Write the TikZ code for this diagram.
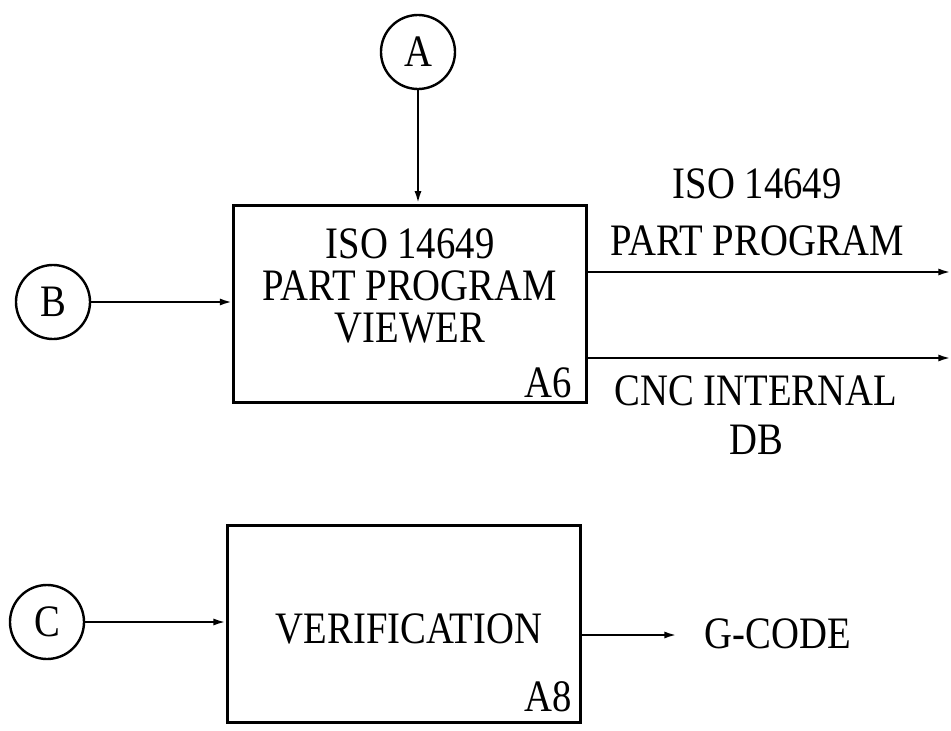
\documentclass[tikz,border=0pt]{standalone}
\usepackage{fontspec}
\setmainfont{Liberation Serif}[FakeStretch=0.86]
\usepackage{tikz}
\usetikzlibrary{arrows.meta}

\begin{document}
\begin{tikzpicture}[line width=1.7pt,
    every node/.style={font=\fontsize{32}{30}\selectfont, inner sep=0pt},
    conn/.style={circle, draw, minimum size=1.85cm},
    func/.style={draw, line width=2pt, minimum width=8.825cm, minimum height=4.925cm},
    flow/.style={-{Latex[open, length=9pt, width=5pt]}}]
  \useasboundingbox (0,0) rectangle (23.775,-18.275);
  % connectors
  \node[conn] (A) at (10.45,-1.30) {A};
  \node[conn] (B) at (1.325,-7.55) {B};
  \node[conn] (C) at (1.175,-15.55) {C};
  % activity boxes
  \node[func] (viewer) at (10.26,-7.59) {};
  \node[align=center] (viewertxt) at (10.25,-7.15) {ISO 14649\\PART PROGRAM\\VIEWER};
  \node[anchor=south east] (a6) at ([shift={(-0.38,0.12)}]viewer.south east) {A6};
  \node[func] (verif) at (10.10,-15.59) {};
  \node (veriftxt) at (10.225,-15.725) {VERIFICATION};
  \node[anchor=south east] (a8) at ([shift={(-0.22,0.25)}]verif.south east) {A8};
  % inputs
  \draw[flow] (A) -- (A |- viewer.north);
  \draw[flow] (B) -- (B -| viewer.west);
  \draw[flow] (C) -- (C -| verif.west);
  % outputs
  \coordinate (ppend) at (23.775,-6.80);
  \coordinate (dbend) at (23.775,-8.95);
  \coordinate (gcend) at (16.925,-15.875);
  \draw[flow] (viewer.east |- ppend) -- (ppend);
  \draw[flow] (viewer.east |- dbend) -- (dbend);
  \draw[flow] (verif.east |- gcend) -- (gcend);
  \node[align=center] (pplbl) at (18.93,-5.31) {ISO 14649\\[10pt]PART PROGRAM};
  \node[align=center] (dblbl) at (18.90,-10.375) {CNC INTERNAL\\[5pt]DB};
  \node (gclbl) at (19.45,-15.85) {G-CODE};
\end{tikzpicture}
\end{document}
